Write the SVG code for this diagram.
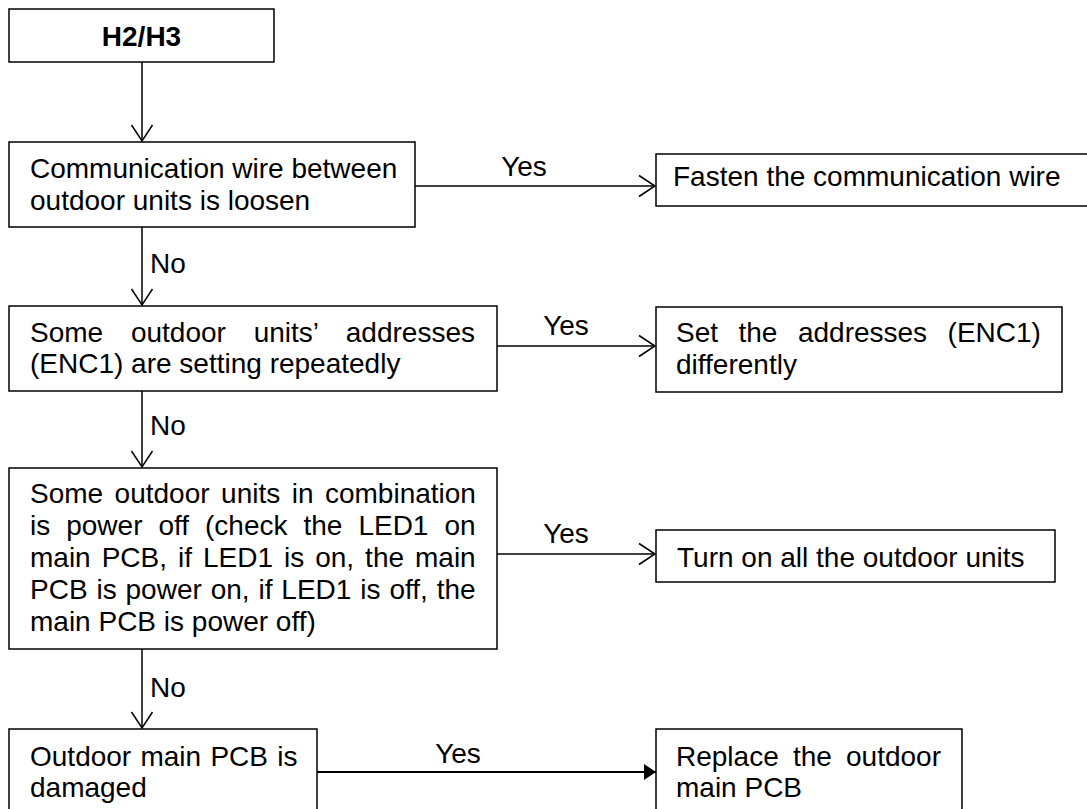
<svg xmlns="http://www.w3.org/2000/svg" width="1087" height="809" viewBox="0 0 1087 809">
<style>
.box{fill:#fff;stroke:#000;stroke-width:1.5}
.t{font-family:"Liberation Sans",Arial,sans-serif;font-size:28px;fill:#000}
.b{font-weight:bold}
.c{stroke:#000;stroke-width:1.5;fill:none}
.c2{stroke:#000;stroke-width:2.2;fill:none}
</style>
<defs>
<marker id="open" markerUnits="userSpaceOnUse" markerWidth="20" markerHeight="24" refX="16" refY="11" orient="auto" viewBox="-1 0 20 22">
<path d="M0,0.5 L16,11 L0,21.5" fill="none" stroke="#000" stroke-width="1.5"/>
</marker>
<marker id="filled" markerUnits="userSpaceOnUse" markerWidth="14" markerHeight="18" refX="12" refY="8" orient="auto" viewBox="0 0 14 16">
<path d="M0,0 L12,8 L0,16 Z" fill="#000"/>
</marker>
</defs>
<g id="connectors">
<line class="c" x1="142" y1="62" x2="142" y2="141" marker-end="url(#open)"/>
<line class="c" x1="415" y1="186" x2="655" y2="186" marker-end="url(#open)"/>
<text class="t" x="524" y="176" text-anchor="middle">Yes</text>
<line class="c" x1="142" y1="227" x2="142" y2="305" marker-end="url(#open)"/>
<text class="t" x="150" y="273">No</text>
<line class="c" x1="497" y1="346" x2="655" y2="346" marker-end="url(#open)"/>
<text class="t" x="566" y="335" text-anchor="middle">Yes</text>
<line class="c" x1="142" y1="391" x2="142" y2="467" marker-end="url(#open)"/>
<text class="t" x="150" y="435">No</text>
<line class="c" x1="497" y1="554" x2="655" y2="554" marker-end="url(#open)"/>
<text class="t" x="566" y="543" text-anchor="middle">Yes</text>
<line class="c" x1="142" y1="649" x2="142" y2="728" marker-end="url(#open)"/>
<text class="t" x="150" y="697">No</text>
<line class="c2" x1="317" y1="772" x2="656" y2="772" marker-end="url(#filled)"/>
<text class="t" x="458" y="763" text-anchor="middle">Yes</text>
</g>
<g id="start">
<rect class="box" x="9" y="9" width="265" height="53"/>
<text class="t b" x="141.5" y="46" text-anchor="middle">H2/H3</text>
</g>
<g id="q1">
<rect class="box" x="9" y="142" width="406" height="85"/>
<text class="t" x="30" y="178">Communication wire between</text>
<text class="t" x="30" y="210">outdoor units is loosen</text>
</g>
<g id="a1">
<rect class="box" x="656" y="154" width="432" height="52"/>
<text class="t" x="673" y="186">Fasten the communication wire</text>
</g>
<g id="q2">
<rect class="box" x="9" y="306" width="488" height="85"/>
<text class="t" x="30" y="342" word-spacing="20">Some outdoor units’ addresses</text>
<text class="t" x="30" y="373">(ENC1) are setting repeatedly</text>
</g>
<g id="a2">
<rect class="box" x="656" y="307" width="406" height="85"/>
<text class="t" x="676" y="342" word-spacing="12.7">Set the addresses (ENC1)</text>
<text class="t" x="676" y="374">differently</text>
</g>
<g id="q3">
<rect class="box" x="9" y="468" width="488" height="181"/>
<text class="t" x="30" y="503" word-spacing="3.7">Some outdoor units in combination</text>
<text class="t" x="30" y="535" word-spacing="8.2">is power off (check the LED1 on</text>
<text class="t" x="30" y="567" word-spacing="3.2">main PCB, if LED1 is on, the main</text>
<text class="t" x="30" y="599" word-spacing="1.1">PCB is power on, if LED1 is off, the</text>
<text class="t" x="30" y="631">main PCB is power off)</text>
</g>
<g id="a3">
<rect class="box" x="656" y="530" width="399" height="52"/>
<text class="t" x="677" y="567">Turn on all the outdoor units</text>
</g>
<g id="q4">
<rect class="box" x="9" y="729" width="308" height="84"/>
<text class="t" x="30" y="766" word-spacing="1.5">Outdoor main PCB is</text>
<text class="t" x="30" y="797">damaged</text>
</g>
<g id="a4">
<rect class="box" x="656" y="729" width="306" height="84"/>
<text class="t" x="676" y="766" word-spacing="6.4">Replace the outdoor</text>
<text class="t" x="676" y="797">main PCB</text>
</g>
</svg>
